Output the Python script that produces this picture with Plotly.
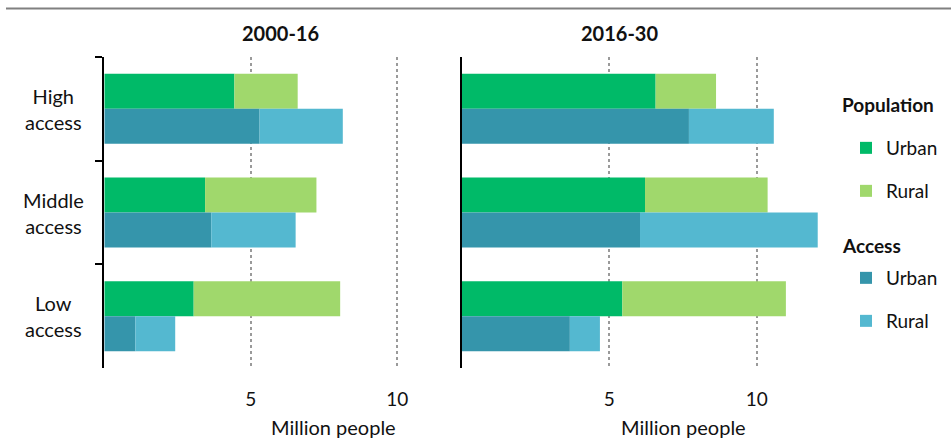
import plotly.graph_objects as go

# ---------------- data ----------------
categories = ["High", "Middle", "Low"]
category_labels = ["High<br>access", "Middle<br>access", "Low<br>access"]
periods = ["2000-16", "2016-30"]

# million people, 2000-16
pop_urban_1 = [4.44, 3.44, 3.05]
pop_rural_1 = [2.16, 3.80, 5.00]
acc_urban_1 = [5.30, 3.65, 1.06]
acc_rural_1 = [2.84, 2.88, 1.36]

# million people, 2016-30
pop_urban_2 = [6.57, 6.21, 5.44]
pop_rural_2 = [2.05, 4.16, 5.55]
acc_urban_2 = [7.70, 6.04, 3.66]
acc_rural_2 = [2.88, 6.03, 1.02]

x_tick_vals = [5, 10]
x_title = "Million people"

# ---------------- styles ----------------
C_POP_URB = "#00BA68"
C_POP_RUR = "#A0D86C"
C_ACC_URB = "#3595AB"
C_ACC_RUR = "#54B8D0"
FONT = "Lato"
W, H = 951, 439

def px_x(p):
    return p / W

def px_y(p):
    return 1 - p / H

fig = go.Figure()

def add_panel(xa, ya, pu, pr, au, ar, show_legend):
    specs = [
        ("Urban", pu, None, C_POP_URB, "pop", "legend"),
        ("Rural", pr, pu, C_POP_RUR, "pop", "legend2"),
        ("Urban", au, None, C_ACC_URB, "acc", "legend3"),
        ("Rural", ar, au, C_ACC_RUR, "acc", "legend4"),
    ]
    for name, vals, base, color, grp, leg in specs:
        fig.add_trace(go.Bar(
            y=categories, x=vals, base=base, orientation="h",
            name=name, offsetgroup=grp, legend=leg,
            marker=dict(color=color, line=dict(width=0)),
            xaxis=xa, yaxis=ya, showlegend=show_legend,
            hoverinfo="skip",
        ))

add_panel("x", "y", pop_urban_1, pop_rural_1, acc_urban_1, acc_rural_1, True)
add_panel("x2", "y2", pop_urban_2, pop_rural_2, acc_urban_2, acc_rural_2, False)

plot_top, plot_bot = 57, 368
left_zero, left_end = 104.3, 426.6
right_zero, right_end = 462, 818.6

xcommon = dict(
    tickvals=x_tick_vals, showgrid=True, gridcolor="#9a9a9a", griddash="dot",
    gridwidth=1.5, zeroline=False, showline=False, ticks="outside", ticklen=14,
    tickcolor="rgba(0,0,0,0)", tickfont=dict(size=19, color="#111", family=FONT),
    fixedrange=True,
)
fig.update_layout(
    xaxis=dict(domain=[px_x(left_zero), px_x(left_end)], range=[0, 11], anchor="y", **xcommon),
    xaxis2=dict(domain=[px_x(right_zero), px_x(right_end)], range=[0, 12.1], anchor="y2", **xcommon),
    yaxis=dict(domain=[px_y(plot_bot), px_y(plot_top)], anchor="x", autorange="reversed",
               type="category", categoryorder="array", categoryarray=categories,
               showline=True, linecolor="black", linewidth=2, ticks="outside",
               tickson="boundaries", ticklen=7, tickwidth=2, tickcolor="black",
               showticklabels=False, showgrid=False, zeroline=False, fixedrange=True),
    yaxis2=dict(domain=[px_y(plot_bot), px_y(plot_top)], anchor="x2", matches="y",
                autorange="reversed", type="category", categoryorder="array",
                categoryarray=categories, showline=True, linecolor="black", linewidth=2,
                ticks="", showticklabels=False, showgrid=False, zeroline=False),
    barmode="group", bargap=0.325, bargroupgap=0,
    width=W, height=H, margin=dict(l=0, r=0, t=0, b=0, autoexpand=False),
    paper_bgcolor="white", plot_bgcolor="white",
    font=dict(family=FONT, size=17, color="#111"),
)

leg_common = dict(xanchor="left", yanchor="middle", bgcolor="rgba(0,0,0,0)",
                  font=dict(size=19, family=FONT, color="#111"), itemwidth=30,
                  borderwidth=0)
legend_x = px_x(846)
fig.update_layout(
    legend=dict(x=legend_x, y=px_y(148), **leg_common),
    legend2=dict(x=legend_x, y=px_y(191), **leg_common),
    legend3=dict(x=legend_x, y=px_y(278), **leg_common),
    legend4=dict(x=legend_x, y=px_y(321), **leg_common),
)

annotations = []
for period, cx in zip(periods, [280, 619]):
    annotations.append(dict(text=f"<b>{period}</b>", x=px_x(cx), y=px_y(33), xref="paper",
                            yref="paper", showarrow=False, xanchor="center", yanchor="middle",
                            font=dict(size=20, family=FONT, color="#111")))
for cx in [333, 683]:
    annotations.append(dict(text=x_title, x=px_x(cx), y=px_y(427), xref="paper", yref="paper",
                            showarrow=False, xanchor="center", yanchor="middle",
                            font=dict(size=20, family=FONT, color="#111")))
for t, cy in [("Population", 104), ("Access", 245)]:
    annotations.append(dict(text=f"<b>{t}</b>", x=px_x(840), y=px_y(cy), xref="paper",
                            yref="paper", showarrow=False, xanchor="left", yanchor="middle",
                            font=dict(size=19, family=FONT, color="#111")))
for cat, lab in zip(categories, category_labels):
    annotations.append(dict(text=lab, x=px_x(53), y=cat, xref="paper", yref="y",
                            showarrow=False, xanchor="center", yanchor="middle", align="center",
                            font=dict(size=20, family=FONT, color="#111")))
fig.update_layout(annotations=annotations)

fig.add_shape(type="line", xref="paper", yref="paper", x0=px_x(6), x1=1,
              y0=px_y(8.5), y1=px_y(8.5), line=dict(color="#808080", width=2))

fig.write_html("out.html", config={"displayModeBar": False},
               post_script="document.body.style.margin='0';")
